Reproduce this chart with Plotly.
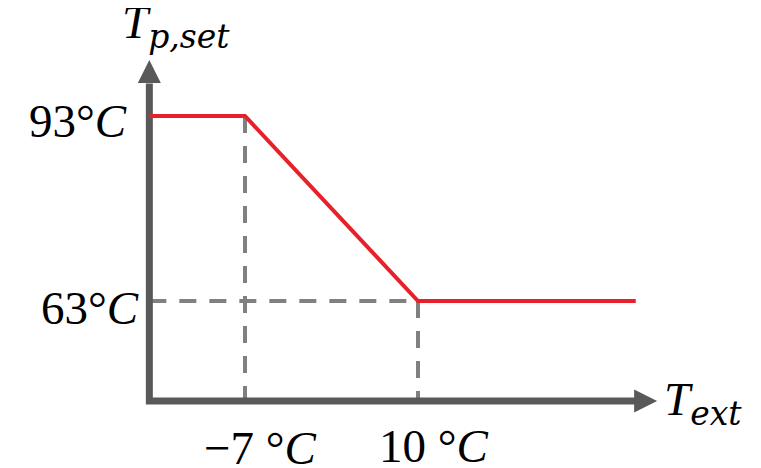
import plotly.graph_objects as go

# ---- chart values -------------------------------------------------------
ext_breakpoints = [-7, 10]          # outdoor temperature break points (°C)
set_breakpoints = [93, 63]          # supply set-point at those points (°C)
ext_curve_min, ext_curve_max = -16.4, 31.4   # extent of the drawn curve
axis_x_tip = 33.5                   # end of the T_ext axis
axis_y_tip = 102.1                  # end of the T_p,set axis
axis_y_origin = 46.8                # level of the T_ext axis

x_tick_labels = ["−7 °<i>C</i>", "10 °<i>C</i>"]
y_tick_labels = ["93°<i>C</i>", "63°<i>C</i>"]
SUB = ('<sub><span style="font-size:33px;font-family:\'DejaVu Serif\'">'
       '<i>{}</i></span></sub>')
x_title = "<i>T</i>" + SUB.format("ext")
y_title = "<i>T</i>" + SUB.format("p,set")

# ---- styles ---------------------------------------------------------------
AXIS_COLOR = "#595959"
DASH_COLOR = "#808080"
RED = "#E8202A"
FONT = "Liberation Serif"
FS = 47
PAGE_OFFSET = 8   # body margin of the html page (px)
PX_PER_X = 10.176
PX_PER_Y = 6.1667
HEAD_LEN = 23     # arrow head length (px)
HEAD_HALF = 11.5  # arrow head half width (px)

x0 = -31.076 + PAGE_OFFSET / PX_PER_X
y1 = 111.811 - PAGE_OFFSET / PX_PER_Y
x_range = [x0, x0 + 761 / PX_PER_X]
y_range = [y1 - 468 / PX_PER_Y, y1]

curve_x = [ext_curve_min, ext_breakpoints[0], ext_breakpoints[1], ext_curve_max]
curve_y = [set_breakpoints[0], set_breakpoints[0], set_breakpoints[1], set_breakpoints[1]]

fig = go.Figure()

dash = dict(color=DASH_COLOR, width=4, dash="17px,13px")
# vertical guides
for xv, yv in zip(ext_breakpoints, set_breakpoints):
    fig.add_trace(go.Scatter(x=[xv, xv], y=[yv, axis_y_origin], mode="lines",
                             line=dash, hoverinfo="skip"))
# horizontal guide at the lower set-point
fig.add_trace(go.Scatter(x=[ext_curve_min, ext_breakpoints[1]],
                         y=[set_breakpoints[1], set_breakpoints[1]],
                         mode="lines", line=dash, hoverinfo="skip"))

# axes lines (L-shape), ending at the base of the arrow heads
y_head_base = axis_y_tip - HEAD_LEN / PX_PER_Y
x_head_base = axis_x_tip - HEAD_LEN / PX_PER_X
fig.add_trace(go.Scatter(x=[ext_curve_min, ext_curve_min, x_head_base + 0.1],
                         y=[y_head_base - 0.1, axis_y_origin, axis_y_origin],
                         mode="lines", line=dict(color=AXIS_COLOR, width=7),
                         hoverinfo="skip"))
# arrow heads (filled triangles)
fig.add_trace(go.Scatter(
    x=[ext_curve_min - HEAD_HALF / PX_PER_X, ext_curve_min,
       ext_curve_min + HEAD_HALF / PX_PER_X, ext_curve_min - HEAD_HALF / PX_PER_X],
    y=[y_head_base, axis_y_tip, y_head_base, y_head_base],
    mode="lines", fill="toself", fillcolor=AXIS_COLOR,
    line=dict(color=AXIS_COLOR, width=0), hoverinfo="skip"))
fig.add_trace(go.Scatter(
    x=[x_head_base, axis_x_tip, x_head_base, x_head_base],
    y=[axis_y_origin + HEAD_HALF / PX_PER_Y, axis_y_origin,
       axis_y_origin - HEAD_HALF / PX_PER_Y, axis_y_origin + HEAD_HALF / PX_PER_Y],
    mode="lines", fill="toself", fillcolor=AXIS_COLOR,
    line=dict(color=AXIS_COLOR, width=0), hoverinfo="skip"))

# heating curve
fig.add_trace(go.Scatter(x=curve_x, y=curve_y, mode="lines",
                         line=dict(color=RED, width=4), hoverinfo="skip"))

ann = []
font = dict(family=FONT, size=FS, color="black")
# y tick labels
y_xshift = [-20, -8]
y_yshift = [-5, -7]
for yv, lab, xs, ys in zip(set_breakpoints, y_tick_labels, y_xshift, y_yshift):
    ann.append(dict(x=ext_curve_min, y=yv, text=lab, showarrow=False,
                    xanchor="right", yanchor="middle", xshift=xs, yshift=ys, font=font))
# x tick labels
x_xshift = [15.5, 16.5]
x_yshift = [-47, -45]
for xv, lab, xs, ys in zip(ext_breakpoints, x_tick_labels, x_xshift, x_yshift):
    ann.append(dict(x=xv, y=axis_y_origin, text=lab, showarrow=False,
                    xanchor="center", yanchor="middle", xshift=xs, yshift=ys, font=font))
# axis titles
ann.append(dict(x=ext_curve_min, y=axis_y_tip, text=y_title, showarrow=False,
                xanchor="left", yanchor="bottom", xshift=-29, yshift=2, font=font))
ann.append(dict(x=axis_x_tip, y=axis_y_origin, text=x_title, showarrow=False,
                xanchor="left", yanchor="middle", xshift=5, yshift=-2, font=font))

fig.update_layout(
    width=761, height=468,
    margin=dict(l=0, r=0, t=0, b=0),
    paper_bgcolor="white", plot_bgcolor="white",
    showlegend=False,
    xaxis=dict(range=x_range, visible=False, fixedrange=True),
    yaxis=dict(range=y_range, visible=False, fixedrange=True),
    annotations=ann,
)

fig.write_html("out.html")
